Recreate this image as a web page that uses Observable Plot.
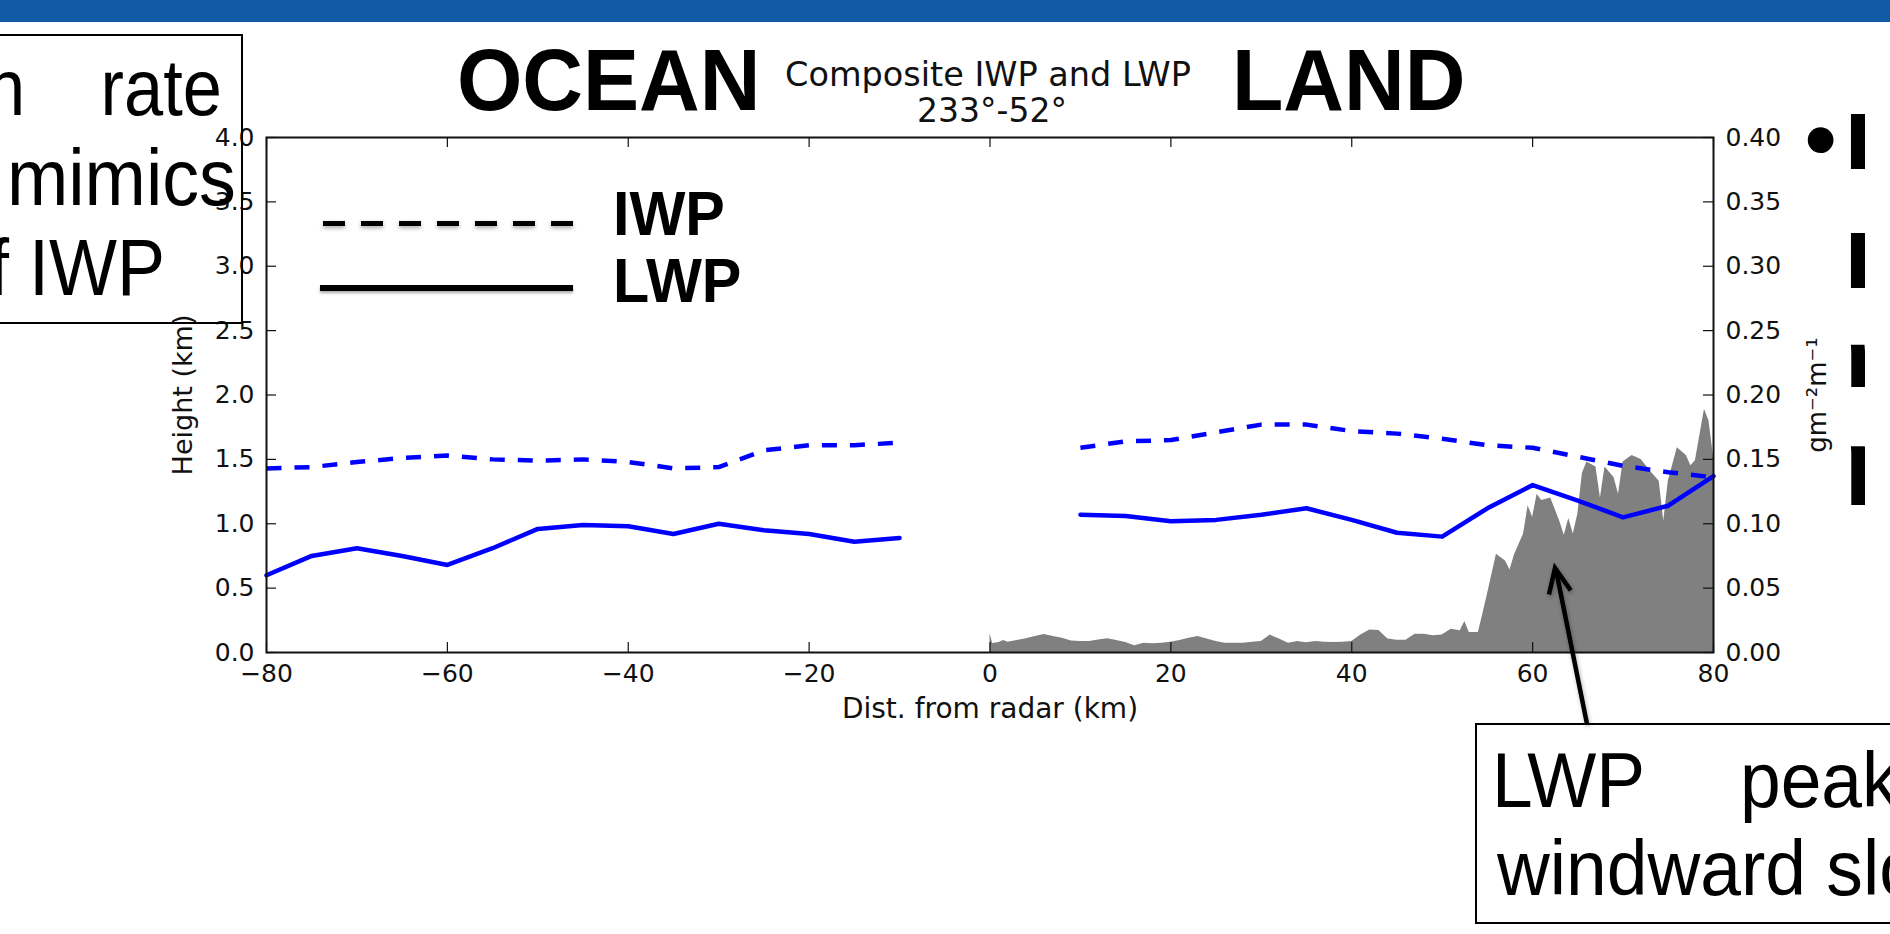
<!DOCTYPE html>
<html>
<head>
<meta charset="utf-8">
<script src="https://cdn.jsdelivr.net/npm/d3@7"></script>
<script src="https://cdn.jsdelivr.net/npm/@observablehq/plot@0.6"></script>
<style>
  html, body { margin: 0; padding: 0; background: #fff; }
  #page { position: relative; width: 1890px; height: 934px; overflow: hidden; background: #fff; }
  #page > * { position: absolute; }
  .t { white-space: nowrap; color: #000; }
  .arial { font-family: "Liberation Sans", Arial, sans-serif; }
  .dv { font-family: "DejaVu Sans", sans-serif; }
  #rightclip { left: 1700px; top: 0; width: 165px; height: 600px; overflow: hidden; }
  #rightclip > div { position: absolute; transform-origin: left; transform: scaleX(1.3); }
</style>
</head>
<body>
<div id="page">
  <div id="chart" style="left:0;top:0;"></div>
  <div style="left:0;top:0;width:1890px;height:22px;background:#115BA6;"></div>

  <!-- matplotlib title -->
  <div class="t dv" style="left:988px;top:57.5px;font-size:33.5px;line-height:33.5px;transform:translateX(-50%);color:#111;">Composite IWP and LWP</div>
  <div class="t dv" style="left:992px;top:94px;font-size:33px;line-height:33px;transform:translateX(-50%);color:#111;">233°-52°</div>

  <!-- slide overlays -->
  <div class="t arial" style="left:457px;top:35.5px;font-size:88px;line-height:88px;font-weight:bold;transform-origin:left;transform:scaleX(0.955);">OCEAN</div>
  <div class="t arial" style="left:1232px;top:35.5px;font-size:88px;line-height:88px;font-weight:bold;transform-origin:left;transform:scaleX(0.955);">LAND</div>

  <div style="left:-10px;top:34px;width:253px;height:290px;box-sizing:border-box;border:2px solid #000;"></div>
  <div class="t arial" style="left:-14px;top:48.3px;font-size:80px;line-height:80px;transform-origin:left;transform:scaleX(0.88);">n</div>
  <div class="t arial" style="right:1668px;top:48.3px;font-size:80px;line-height:80px;transform-origin:right;transform:scaleX(0.88);">rate</div>
  <div class="t arial" style="right:1654px;top:138.3px;font-size:80px;line-height:80px;transform-origin:right;transform:scaleX(0.92);">mimics</div>
  <div class="t arial" style="left:-11px;top:228.3px;font-size:80px;line-height:80px;transform-origin:left;transform:scaleX(0.9);">f IWP</div>

  <div style="left:323px;top:220.5px;width:250px;height:5px;background:repeating-linear-gradient(to right,#000 0 21.7px,transparent 21.7px 38px);filter:drop-shadow(0 2px 2px rgba(0,0,0,0.35));"></div>
  <div style="left:320px;top:285px;width:253px;height:6px;background:#000;box-shadow:0 2px 3px rgba(0,0,0,0.35);"></div>
  <div class="t arial" style="left:613px;top:181.7px;font-size:63px;line-height:63px;font-weight:bold;transform-origin:left;transform:scaleX(0.94);">IWP</div>
  <div class="t arial" style="left:613px;top:248.7px;font-size:63px;line-height:63px;font-weight:bold;transform-origin:left;transform:scaleX(0.94);">LWP</div>

  <div class="t arial" style="left:1804px;top:91.6px;font-size:95px;line-height:95px;">•</div>
  <div id="rightclip">
    <div class="t arial" style="left:143.5px;top:102.3px;font-size:80px;line-height:80px;font-weight:bold;">L</div>
    <div class="t arial" style="left:143.5px;top:221.3px;font-size:80px;line-height:80px;font-weight:bold;">L</div>
    <div class="t arial" style="left:143.5px;top:320.3px;font-size:80px;line-height:80px;font-weight:bold;">r</div>
    <div class="t arial" style="left:143.5px;top:421.3px;font-size:80px;line-height:80px;font-weight:bold;">p</div>
  </div>

  <div style="left:1475px;top:723px;width:500px;height:201px;box-sizing:border-box;border:2px solid #000;background:#fff;"></div>
  <div class="t arial" style="left:1492px;top:741.9px;font-size:77px;line-height:77px;transform-origin:left;transform:scaleX(0.95);">LWP</div>
  <div class="t arial" style="left:1740px;top:741.9px;font-size:77px;line-height:77px;transform-origin:left;transform:scaleX(0.95);">peak</div>
  <div class="t arial" style="left:1497px;top:829.9px;font-size:77px;line-height:77px;transform-origin:left;transform:scaleX(0.95);">windward slope</div>

  <svg style="left:0;top:0;overflow:visible;" width="1890" height="934">
    <g stroke="#000" stroke-width="4.5" fill="none" stroke-linecap="butt" style="filter:drop-shadow(1px 2px 2px rgba(0,0,0,0.3));">
      <line x1="1587" y1="724" x2="1556" y2="570"></line>
      <polyline points="1549,594.6 1555,568 1570.7,590.4" stroke-linejoin="miter"></polyline>
    </g>
  </svg>
</div>
<script>
// ---- data ----
const dist = [-80,-75,-70,-65,-60,-55,-50,-45,-40,-35,-30,-25,-20,-15,-10,-5,0,5,10,15,20,25,30,35,40,45,50,55,60,65,70,75,80];
const iwp  = [1.43,1.44,1.48,1.51,1.53,1.50,1.49,1.50,1.48,1.43,1.44,1.57,1.61,1.61,1.63,null,null,null,1.59,1.64,1.65,1.71,1.77,1.77,1.72,1.70,1.66,1.61,1.59,1.52,1.45,1.40,1.36];
const lwp  = [0.60,0.75,0.81,0.75,0.68,0.81,0.96,0.99,0.98,0.92,1.00,0.95,0.92,0.86,0.89,null,null,null,1.07,1.06,1.02,1.03,1.07,1.12,1.03,0.93,0.90,1.12,1.30,1.18,1.05,1.14,1.37];

// grey profile (right axis, gm^-2 m^-1)
const profX = [0,0.3,1,1.5,2,3,4,5,6,7,8,9,10,11,12,13,14,15,16,17,18,19,20,21,22,23,24,25,26,27,28,29,30,31,32,33,34,35,36,37,38,39,40,41,42,43,44,45,46,47,48,49,50,51,52,52.5,53,54,54.5,55,56,57,57.5,58,59,59.5,60,60.5,61,62,63,63.5,64,64.5,65,65.5,66,67,67.5,68,69,69.5,70,71,72,73,74,74.5,75,76,77,77.5,78,79,79.5,80];
const profV = [0.0145,0.007,0.0078,0.0093,0.008,0.0093,0.0106,0.0124,0.014,0.0124,0.011,0.009,0.0085,0.0085,0.0098,0.0106,0.0093,0.0078,0.0052,0.0072,0.0067,0.0072,0.008,0.0093,0.011,0.0124,0.0104,0.0085,0.0072,0.0072,0.0072,0.008,0.0085,0.0135,0.0104,0.0072,0.0085,0.0075,0.0085,0.008,0.0078,0.008,0.0085,0.0135,0.0174,0.017,0.0104,0.0096,0.0096,0.0142,0.0142,0.013,0.0135,0.018,0.0168,0.024,0.0155,0.0155,0.030,0.045,0.0764,0.071,0.064,0.076,0.092,0.114,0.105,0.123,0.118,0.120,0.102,0.091,0.104,0.092,0.1075,0.139,0.148,0.144,0.12,0.144,0.136,0.123,0.148,0.153,0.150,0.141,0.133,0.102,0.133,0.159,0.153,0.145,0.149,0.189,0.18,0.152];

const xTicks = [-80,-60,-40,-20,0,20,40,60,80];
const yTicks = [0,0.5,1,1.5,2,2.5,3,3.5,4];
const rightTickLabels = ["0.00","0.05","0.10","0.15","0.20","0.25","0.30","0.35","0.40"];

const xLabel = "Dist. from radar (km)";
const yLabel = "Height (km)";
const y2Label = "gm⁻²m⁻¹";

// ---- tables ----
const lines = dist.map((d, i) => ({x: d, iwp: iwp[i], lwp: lwp[i]}));
const prof = profX.map((x, i) => ({x, v: profV[i]}));
const RIGHT_FACTOR = 10; // right axis (0–0.40) mapped onto left axis (0–4)

const W = 1890, H = 934;
const mL = 266, mR = 177, mT = 137, mB = 282;
const frameW = W - mL - mR, frameH = H - mT - mB;
const tickLen = 10;
const ink = "#111";

const chart = Plot.plot({
  width: W, height: H,
  marginLeft: mL, marginRight: mR, marginTop: mT, marginBottom: mB,
  x: {domain: [-80, 80]},
  y: {domain: [0, 4]},
  style: {fontFamily: "DejaVu Sans, sans-serif", fontSize: "25px", background: "transparent", color: ink, overflow: "visible"},
  marks: [
    Plot.areaY(prof, {x: "x", y: d => d.v * RIGHT_FACTOR, fill: "#808080", curve: "linear"}),
    Plot.line(lines, {x: "x", y: "iwp", stroke: "#0000ff", strokeWidth: 4.5, strokeDasharray: "15,13", strokeLinecap: "butt"}),
    Plot.line(lines, {x: "x", y: "lwp", stroke: "#0000ff", strokeWidth: 4.5}),
    Plot.frame({stroke: ink, strokeWidth: 2}),
    Plot.tickX(xTicks, {x: d => d, insetTop: frameH - tickLen, stroke: ink, strokeWidth: 1.2}),
    Plot.tickX(xTicks, {x: d => d, insetBottom: frameH - tickLen, stroke: ink, strokeWidth: 1.2}),
    Plot.tickY(yTicks, {y: d => d, insetRight: frameW - tickLen, stroke: ink, strokeWidth: 1.2}),
    Plot.tickY(yTicks, {y: d => d, insetLeft: frameW - tickLen, stroke: ink, strokeWidth: 1.2}),
    Plot.axisX({ticks: xTicks, tickSize: 0, tickPadding: 12, label: null,
      tickFormat: d => d < 0 ? "\u2212" + Math.abs(d) : String(d)}),
    Plot.axisY({anchor: "left", ticks: yTicks, tickSize: 0, tickPadding: 12, label: null,
      tickFormat: d => d.toFixed(1)}),
    Plot.axisY({anchor: "right", ticks: yTicks, tickSize: 0, tickPadding: 12, label: null,
      tickFormat: d => rightTickLabels[yTicks.indexOf(d)]}),
    Plot.text([yLabel], {text: d => d, frameAnchor: "left", textAnchor: "middle", dx: -83, rotate: -90, fontSize: 27, fill: ink}),
    Plot.text([y2Label], {text: d => d, frameAnchor: "right", textAnchor: "middle", dx: 104, rotate: -90, fontSize: 26, fill: ink}),
    Plot.text([xLabel], {text: d => d, frameAnchor: "bottom", dy: 65, fontSize: 28, fill: ink})
  ]
});
document.getElementById("chart").appendChild(chart);
</script>
</body>
</html>
